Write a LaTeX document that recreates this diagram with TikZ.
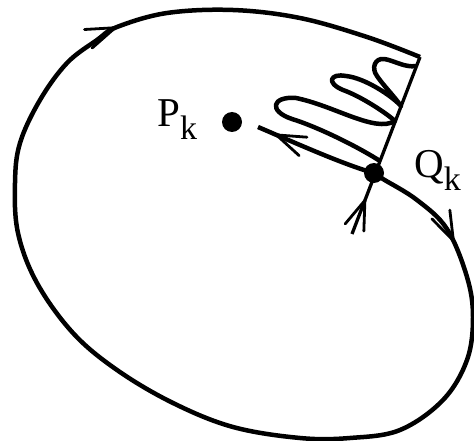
\documentclass[tikz,border=0pt]{standalone}
\usepackage{fontspec}
\setmainfont{Liberation Serif}
\usetikzlibrary{arrows.meta,decorations.markings,positioning}

\begin{document}
\begin{tikzpicture}[
    x=1pt, y=-1pt,
    curve/.style={line width=4.5pt, line join=round},
    thin line/.style={line width=3.3pt},
    bigdot/.style={circle, fill, inner sep=0pt, minimum size=20pt},
    lbl/.style={inner sep=0pt, font=\fontsize{41}{41}\selectfont},
    barb/.style={postaction={decorate, decoration={markings,
        mark=at position #1 with {\draw[line width=2.8pt, line cap=round]
            (-29pt,10pt) -- (0pt,0pt) -- (-29pt,-10pt);}}}},
]
\useasboundingbox (0,0) rectangle (474,441);

% points on the loop
\coordinate (Q) at (374,173);
\coordinate (T) at (420,57);
\coordinate (B) at (352,234);
\coordinate (Pend) at (258,127);
\coordinate (R0) at (380,161);
\coordinate (R1) at (395,121);
\coordinate (R2) at (401,106);
\coordinate (R3) at (416,66);

% outer loop
\draw[curve, barb=106pt, barb=-314pt] plot[smooth, tension=0.6] coordinates {
    (Q) (383,179) (417,200) (447,229) (467,277) (473,317) (467,360)
    (443,400) (400,430) (350,438) (300,438) (233,427) (173,403)
    (117,370) (73,333) (37,283) (18,233) (15,183) (20,143) (40,100)
    (67,63) (97,40) (117,27) (167,13) (233,10) (300,18) (367,37) (T)};

\draw[thin line, barb=36pt] (B) -- (T);

% the wiggle
\draw[curve] (R0) .. controls (355,145) and (315,126) .. (292,119)
    .. controls (268,111) and (272,96) .. (296,98)
    .. controls (335,106) and (375,133) .. (R1)
    .. controls (385,112) and (360,96) .. (343,90)
    .. controls (326,83) and (330,73) .. (346,76)
    .. controls (365,78) and (392,96) .. (R2)
    .. controls (394,96) and (383,85) .. (377,76)
    .. controls (371,68) and (375,58) .. (384,59)
    .. controls (393,60) and (405,68) .. (R3);

\draw[curve, barb=-20pt] (Q) .. controls (345,165) and (300,145) .. (Pend);

\node[bigdot] (Pdot) at (232,122) {};
\node[bigdot] (Qdot) at (Q) {};

\node[lbl, anchor=base west] (Pk) at (157,127)
    {P\raisebox{-13pt}{\fontsize{34}{34}\selectfont k}};
\node[lbl, anchor=base west] (Qk) at (414,178)
    {Q\raisebox{-13pt}{\fontsize{34}{34}\selectfont k}};
\end{tikzpicture}
\end{document}
